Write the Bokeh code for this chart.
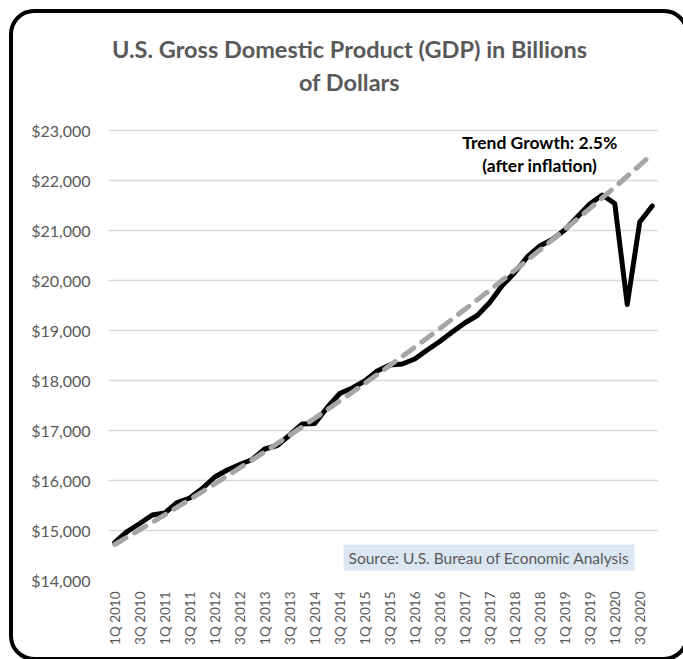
import math
from bokeh.plotting import figure
from bokeh.models import Range1d, FixedTicker, NumeralTickFormatter, Label
from bokeh.embed import file_html
from bokeh.resources import INLINE

# ---- data ----
quarters = [f"{q}Q {y}" for y in range(2010, 2021) for q in range(1, 5)]
gdp = [14760, 14980, 15140, 15310, 15350, 15560, 15650, 15840,
       16070, 16210, 16320, 16420, 16630, 16700, 16910, 17130,
       17140, 17460, 17740, 17850, 17990, 18190, 18310, 18330,
       18430, 18610, 18780, 18970, 19150, 19300, 19560, 19900,
       20160, 20470, 20690, 20820, 21010, 21270, 21530, 21710,
       21540, 19520, 21170, 21490]
trend = [14720, 14866, 15014, 15163, 15314, 15466, 15620, 15775,
         15932, 16091, 16251, 16412, 16575, 16740, 16907, 17075,
         17245, 17416, 17589, 17764, 17941, 18119, 18299, 18481,
         18665, 18851, 19038, 19228, 19419, 19612, 19807, 20004,
         20203, 20404, 20607, 20812, 21019, 21228, 21439, 21652,
         21868, 22085, 22305, 22527]
y_ticks = [14000, 15000, 16000, 17000, 18000, 19000, 20000, 21000, 22000, 23000]
title_lines = ["U.S. Gross Domestic Product (GDP) in Billions", "of Dollars"]
note_lines = ["Trend Growth: 2.5%", "(after inflation)"]
source_text = "Source: U.S. Bureau of Economic Analysis"

xs = list(range(len(quarters)))
label_idx = xs[::2]

FONT = "Lato"
GRAY = "#595959"

# the plot frame reaches the top of the card so the heading can sit inside it
TOP_PAD = 2600  # value units of empty headroom above the $23,000 line

p = figure(width=683, height=659, title=None,
           x_range=Range1d(-0.5, len(quarters) - 0.5),
           y_range=Range1d(y_ticks[0], y_ticks[-1] + TOP_PAD),
           output_backend="svg", toolbar_location=None,
           min_border_left=108, min_border_right=25,
           min_border_top=0, min_border_bottom=79)
p.outline_line_color = None
p.background_fill_color = None
p.border_fill_color = None
p.stylesheets = [
    ":host { position: relative; overflow: hidden; background: white; }"
    ":host::after { content: ''; position: absolute; left: 9px; top: 9px;"
    " width: 680px; height: 652px; box-sizing: border-box;"
    " border: 4.7px solid black; border-radius: 25px; pointer-events: none;"
    " z-index: 10; }"
]

p.line(xs, gdp, line_color="black", line_width=5,
       line_join="round", line_cap="round")
p.line(xs, trend, line_color="#a6a6a6", line_width=5,
       line_dash="13 10", line_cap="round")

# axes
p.xaxis.ticker = FixedTicker(ticks=label_idx)
p.xaxis.major_label_overrides = {i: quarters[i] for i in label_idx}
p.xaxis.major_label_orientation = math.pi / 2
p.xaxis.axis_line_color = None
p.xaxis.major_tick_line_color = None
p.xaxis.minor_tick_line_color = None
p.xaxis.major_tick_out = 0
p.xaxis.major_label_standoff = 11
p.xaxis.major_label_text_font = FONT
p.xaxis.major_label_text_font_size = "13.5px"
p.xaxis.major_label_text_color = GRAY

p.yaxis.ticker = FixedTicker(ticks=y_ticks)
p.yaxis.formatter = NumeralTickFormatter(format="$0,0")
p.yaxis.axis_line_color = None
p.yaxis.major_tick_line_color = None
p.yaxis.minor_tick_line_color = None
p.yaxis.major_tick_out = 0
p.yaxis.major_label_standoff = 18
p.yaxis.major_label_text_font = FONT
p.yaxis.major_label_text_font_size = "16px"
p.yaxis.major_label_text_color = GRAY

p.xgrid.grid_line_color = None
p.ygrid.grid_line_color = "#d9d9d9"
p.ygrid.grid_line_width = 1.5

# heading (two centred lines)
for txt, yv in zip(title_lines, [24640, 23980]):
    p.add_layout(Label(x=18.78, y=yv, text=txt, text_align="center",
                       text_baseline="middle", text_font=FONT,
                       text_font_style="bold", text_font_size="23.5px",
                       text_color=GRAY))

# trend note
for txt, yv in zip(note_lines, [22760, 22300]):
    p.add_layout(Label(x=34.0, y=yv, text=txt, text_align="center",
                       text_baseline="middle", text_font=FONT,
                       text_font_style="bold", text_font_size="17.5px",
                       text_color="black"))

# source
p.add_layout(Label(x=29.94, y=14460, text=source_text, text_align="center",
                   text_baseline="middle", text_font=FONT,
                   text_font_size="15.5px", text_color=GRAY,
                   background_fill_color="#dce6f1", padding=(5, 4)))

open("out.html", "w").write(file_html(p, INLINE))
